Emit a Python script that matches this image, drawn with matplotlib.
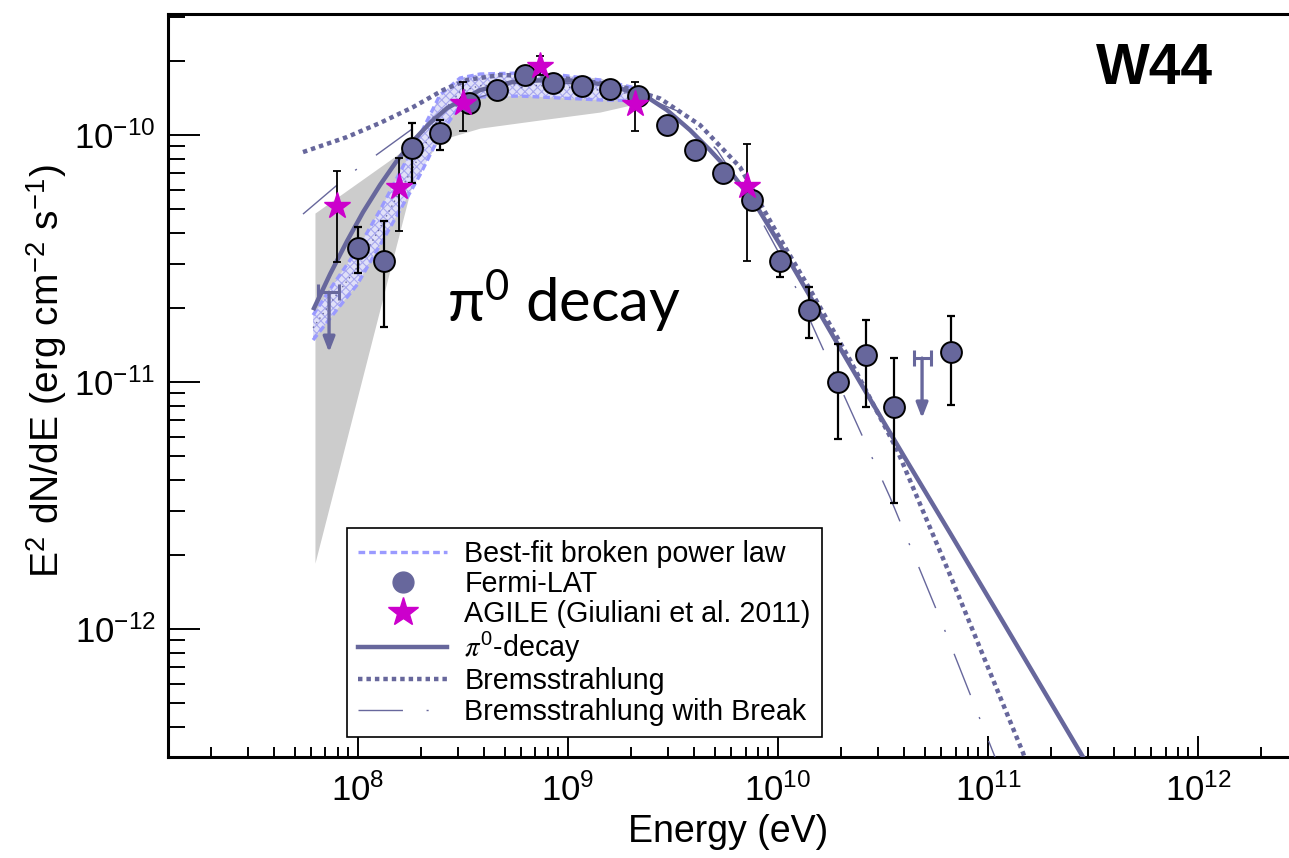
import numpy as np
import matplotlib
matplotlib.use("Agg")
import matplotlib.pyplot as plt
from matplotlib.lines import Line2D
from matplotlib import ticker

plt.rcParams['font.family'] = ['Liberation Sans', 'DejaVu Sans']
plt.rcParams['mathtext.fontset'] = 'stix'
plt.rcParams['hatch.linewidth'] = 0.8

# ---------------- data ----------------
# Fermi-LAT flux points (E in eV, E^2 dN/dE in erg cm^-2 s^-1)
fermi_E = [1.00e8, 1.33e8, 1.81e8, 2.45e8, 3.38e8, 4.59e8, 6.24e8, 8.49e8, 1.17e9,
           1.58e9, 2.15e9, 2.96e9, 4.03e9, 5.47e9, 7.52e9, 1.02e10, 1.41e10,
           1.93e10, 2.62e10, 3.56e10, 6.67e10]
fermi_F = [3.49e-11, 3.09e-11, 8.86e-11, 1.02e-10, 1.35e-10, 1.52e-10, 1.75e-10,
           1.62e-10, 1.58e-10, 1.53e-10, 1.44e-10, 1.10e-10, 8.69e-11, 7.02e-11,
           5.45e-11, 3.09e-11, 1.96e-11, 1.00e-11, 1.29e-11, 7.92e-12, 1.32e-11]
fermi_hi = [4.25e-11, 4.49e-11, 1.12e-10, 1.15e-10, 1.38e-10, 1.54e-10, 1.77e-10,
            1.64e-10, 1.60e-10, 1.55e-10, 1.46e-10, 1.12e-10, 8.85e-11, 7.15e-11,
            5.55e-11, 3.30e-11, 2.43e-11, 1.43e-11, 1.78e-11, 1.25e-11, 1.85e-11]
fermi_lo = [2.76e-11, 1.67e-11, 6.40e-11, 8.69e-11, 1.32e-10, 1.50e-10, 1.73e-10,
            1.60e-10, 1.56e-10, 1.51e-10, 1.42e-10, 1.08e-10, 8.50e-11, 6.88e-11,
            4.95e-11, 2.66e-11, 1.51e-11, 5.87e-12, 7.92e-12, 3.23e-12, 8.07e-12]

# Fermi-LAT upper limits
ul_E = [7.28e7, 4.85e10]
ul_Elo = [6.45e7, 4.45e10]
ul_Ehi = [8.13e7, 5.36e10]
ul_F = [2.31e-11, 1.25e-11]
ul_Ftip = [1.32e-11, 7.14e-12]

# AGILE points
agile_E = [7.94e7, 1.57e8, 3.16e8, 7.36e8, 2.08e9, 7.11e9]
agile_F = [5.16e-11, 6.16e-11, 1.35e-10, 1.90e-10, 1.33e-10, 6.22e-11]
agile_hi = [7.15e-11, 8.07e-11, 1.64e-10, 2.09e-10, 1.64e-10, 9.20e-11]
agile_lo = [3.06e-11, 4.08e-11, 1.04e-10, 1.75e-10, 1.04e-10, 3.09e-11]

# pi0-decay model (log10 E, log10 F)
pi0_logE = [7.786, 7.867, 7.948, 8.024, 8.105, 8.181, 8.262, 8.343, 8.424, 8.581,
            8.738, 8.900, 9.057, 9.214, 9.376, 9.471, 9.581, 9.676, 9.786, 9.900,
            10.010, 10.138, 10.262, 10.390, 10.605, 10.819, 11.057, 11.452, 11.533]
pi0_logF = [-10.709, -10.563, -10.429, -10.312, -10.202, -10.109, -10.024, -9.951,
            -9.891, -9.818, -9.785, -9.777, -9.781, -9.802, -9.846, -9.899, -9.980,
            -10.061, -10.162, -10.291, -10.445, -10.632, -10.814, -11.000, -11.308,
            -11.611, -11.951, -12.518, -12.636]

# Bremsstrahlung model
brem_logE = [7.738, 7.948, 8.105, 8.262, 8.405, 8.519, 8.676, 8.867, 9.057, 9.248,
             9.438, 9.629, 9.819, 10.010, 10.152, 10.343, 10.567, 10.819, 11.167, 11.224]
brem_logF = [-10.069, -10.008, -9.951, -9.887, -9.818, -9.777, -9.757, -9.761, -9.777,
             -9.802, -9.852, -9.960, -10.130, -10.420, -10.625, -10.911, -11.275,
             -11.781, -12.502, -12.652]

# Bremsstrahlung with break model
bremb_logE = [7.738, 7.962, 8.257, 8.438, 8.676, 8.962, 9.248, 9.533, 9.710, 9.867,
              10.043, 10.152, 10.343, 10.533, 10.786, 11.033, 11.081]
bremb_logF = [-10.320, -10.158, -9.976, -9.891, -9.818, -9.789, -9.806, -9.907,
              -10.061, -10.263, -10.538, -10.749, -11.109, -11.466, -11.988, -12.518,
              -12.611]

# Best-fit broken power law with its confidence band
bpl_logE = [7.786, 7.890, 7.995, 8.105, 8.200, 8.295, 8.390, 8.486, 8.581, 8.771,
            8.962, 9.152, 9.367]
bpl_up = [-10.729, -10.595, -10.466, -10.304, -10.150, -10.000, -9.838, -9.769,
          -9.753, -9.749, -9.757, -9.777, -9.818]
bpl_lo = [-10.830, -10.717, -10.607, -10.445, -10.304, -10.162, -10.000, -9.879,
          -9.846, -9.842, -9.850, -9.858, -9.862]
bpl_mid = [-10.780, -10.656, -10.537, -10.375, -10.227, -10.081, -9.919, -9.824,
           -9.800, -9.796, -9.804, -9.818, -9.840]

# Grey band (earlier spectral fit)
grey_logE = [7.795, 8.152, 8.262, 8.390, 8.581, 8.867, 9.152, 9.343]
grey_up = [-10.316, -10.101, -10.032, -9.899, -9.785, -9.753, -9.769, -9.826]
grey_lo = [-11.733, -10.547, -10.182, -10.020, -9.972, -9.939, -9.907, -9.870]

# axis ticks
x_major = [1e8, 1e9, 1e10, 1e11, 1e12]
y_major = [1e-12, 1e-11, 1e-10]

# ---------------- style ----------------
slate = '#67679c'
magenta = '#cc00cc'
lightblue = '#9a9aff'

fig = plt.figure(figsize=(12.89, 8.58), dpi=100)
ax = fig.add_axes([168/1289, 1-757/858, 1-168/1289, (757-14)/858])
ax.set_xscale('log')
ax.set_yscale('log')
xmin, xmax = 10**7.0952, 10**12.433
ymin, ymax = 10**-12.518, 10**-9.510
ax.set_xlim(xmin, xmax)
ax.set_ylim(ymin, ymax)

# grey band
ax.fill_between(10**np.array(grey_logE), 10**np.array(grey_lo), 10**np.array(grey_up),
                color='#cccccc', linewidth=0, zorder=1)

# best-fit band
bE = 10**np.array(bpl_logE)
ax.fill_between(bE, 10**np.array(bpl_lo), 10**np.array(bpl_up),
                facecolor='#e0e0f8', edgecolor='#a8a8ee', hatch='xxxx',
                linewidth=0, zorder=2)
ax.plot(bE, 10**np.array(bpl_up), color=lightblue, lw=2.4, ls=(0, (2.0, 1.2)), zorder=2.2)
ax.plot(bE, 10**np.array(bpl_lo), color=lightblue, lw=2.4, ls=(0, (2.0, 1.2)), zorder=2.2)
ax.plot(bE, 10**np.array(bpl_mid), color=slate, lw=1.0, ls=(0, (1, 3)), zorder=2.3)

# models
ax.plot(10**np.array(bremb_logE), 10**np.array(bremb_logF), color=slate, lw=1.0,
        ls=(0, (32, 17, 1.5, 17)), zorder=3)
ax.plot(10**np.array(brem_logE), 10**np.array(brem_logF), color=slate, lw=3.2,
        ls=(0, (1.0, 0.9)), zorder=3)
ax.plot(10**np.array(pi0_logE), 10**np.array(pi0_logF), color=slate, lw=3.2,
        solid_capstyle='butt', solid_joinstyle='round', zorder=3.5)

# Fermi points
fE = np.array(fermi_E); fF = np.array(fermi_F)
yerr = [fF - np.array(fermi_lo), np.array(fermi_hi) - fF]
ax.errorbar(fE, fF, yerr=yerr, fmt='none', ecolor='black', elinewidth=1.6,
            capsize=3.0, capthick=1.6, zorder=4)
ax.plot(fE, fF, 'o', ms=15, mfc=slate, mec='black', mew=1.4, ls='none', zorder=5)

# upper limits
uE = np.array(ul_E); uF = np.array(ul_F)
ax.errorbar(uE, uF, xerr=[uE - np.array(ul_Elo), np.array(ul_Ehi) - uE], fmt='none',
            ecolor=slate, elinewidth=2.2, capsize=6, capthick=2.2, zorder=4)
for x, y0, y1 in zip(ul_E, ul_F, ul_Ftip):
    ax.annotate('', xy=(x, y1), xytext=(x, y0),
                arrowprops=dict(arrowstyle='-|>,head_length=0.9,head_width=0.35',
                                color=slate, lw=2.4, shrinkA=0, shrinkB=0), zorder=4)

# AGILE points
aE = np.array(agile_E); aF = np.array(agile_F)
ax.errorbar(aE, aF, yerr=[aF - np.array(agile_lo), np.array(agile_hi) - aF], fmt='none',
            ecolor='black', elinewidth=1.3, capsize=3.0, capthick=1.3, zorder=4)
ax.plot(aE, aF, '*', ms=20, mfc=magenta, mec=magenta, ls='none', zorder=6)

# ---------------- axes styling ----------------
for s in ['left', 'bottom', 'top']:
    ax.spines[s].set_linewidth(2.2)
ax.spines['right'].set_visible(False)
ax.tick_params(axis='both', which='both', direction='in', top=False, right=False,
               labelsize=25, width=1.4)
ax.tick_params(axis='x', which='major', length=15, pad=12)
ax.tick_params(axis='x', which='minor', length=7)
ax.tick_params(axis='y', which='major', length=23, pad=9)
ax.tick_params(axis='y', which='minor', length=12)

x_minor = [m * 10.0**d for d in range(7, 13) for m in range(2, 10)
           if xmin < m * 10.0**d < xmax]
y_minor = [m * 10.0**d for d in range(-13, -9) for m in range(2, 10)
           if ymin < m * 10.0**d < ymax]
ax.xaxis.set_major_locator(ticker.FixedLocator(x_major))
ax.xaxis.set_minor_locator(ticker.FixedLocator(x_minor))
ax.yaxis.set_major_locator(ticker.FixedLocator(y_major))
ax.yaxis.set_minor_locator(ticker.FixedLocator(y_minor))
ax.xaxis.set_major_formatter(ticker.LogFormatterSciNotation())
ax.yaxis.set_major_formatter(ticker.LogFormatterSciNotation())
ax.xaxis.set_minor_formatter(ticker.NullFormatter())
ax.yaxis.set_minor_formatter(ticker.NullFormatter())

ax.set_xlabel('Energy (eV)', fontsize=27)
ax.xaxis.set_label_coords(0.5, -0.077)
ax.xaxis.label.set_va('top')
ax.set_ylabel(r'E$^{\mathdefault{2}}$ dN/dE (erg cm$^{\mathdefault{-2}}$ s$^{\mathdefault{-1}}$)',
              fontsize=28)
ax.yaxis.set_label_coords(-0.088, 0.52)

# texts
ax.text((1154-168)/1121, (757-69)/743, 'W44', transform=ax.transAxes, fontsize=41,
        fontweight='bold', ha='center', va='center', family=['Liberation Sans', 'DejaVu Sans'])
ax.text((447-168)/1121, (757-322)/743, r'$\mathdefault{\pi^{0}}$ decay', transform=ax.transAxes,
        fontsize=43, ha='left', va='baseline', family=['Lato', 'DejaVu Sans'])

# legend
handles = [
    Line2D([], [], color=lightblue, lw=2.4, ls=(0, (2.0, 1.2))),
    Line2D([], [], marker='o', color=slate, ms=15, ls='none', mec=slate),
    Line2D([], [], marker='*', color=magenta, ms=22, ls='none'),
    Line2D([], [], color=slate, lw=3.2),
    Line2D([], [], color=slate, lw=3.2, ls=(0, (1.0, 0.9))),
    Line2D([], [], color=slate, lw=1.0, ls=(0, (32, 17, 1.5, 17))),
]
labels = ['Best-fit broken power law', 'Fermi-LAT', 'AGILE (Giuliani et al. 2011)',
          r'$\pi^{\mathdefault{0}}$-decay', 'Bremsstrahlung', 'Bremsstrahlung with Break']
leg = ax.legend(handles, labels, loc='lower left',
                bbox_to_anchor=((347-168)/1121, (757-737)/743), borderaxespad=0,
                fontsize=20.6, handlelength=3.1, handletextpad=0.6, labelspacing=0.08,
                borderpad=0.4, fancybox=False, frameon=True, framealpha=1)
leg.get_frame().set_edgecolor('black')
leg.get_frame().set_linewidth(1.2)
leg.set_zorder(10)

fig.savefig('out.png', dpi=100)
